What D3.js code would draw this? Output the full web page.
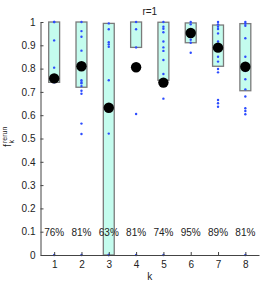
<!DOCTYPE html>
<html>
<head>
<meta charset="utf-8">
<script src="https://cdn.jsdelivr.net/npm/d3@7"></script>
<style>
  body { margin: 0; background: #fff; }
  text { font-family: "Liberation Sans", Arial, sans-serif; fill: #222; }
</style>
</head>
<body>
<svg id="chart"></svg>
<script>
const width = 277;
const height = 284;

const ks = [1, 2, 3, 4, 5, 6, 7, 8];
const boxLow = [0.741, 0.72, 0, 0.891, 0.75, 0.911, 0.81, 0.705];
const boxHigh = [1, 1, 0.994, 1, 0.999, 0.996, 0.987, 0.993];
const means = [0.758, 0.81, 0.632, 0.806, 0.74, 0.953, 0.89, 0.808];
const points = [
  [1, 1, 0.921, 0.804, 0.741, 0],
  [1, 0.961, 0.937, 0.877, 0.75, 0.742, 0.737, 0.725, 0.705, 0.692, 0.564, 0.519, 0],
  [0.994, 0.969, 0.913, 0.904, 0.894, 0.75, 0.521, 0, 0],
  [1, 0.969, 0.891, 0.605, 0],
  [1, 0.98, 0.971, 0.956, 0.916, 0.891, 0.876, 0.837, 0.777, 0.671, 0],
  [1, 0.99, 0.944, 0.924, 0.911, 0.868],
  [1, 0.99, 0.98, 0.97, 0.951, 0.916, 0.88, 0.851, 0.83, 0.798, 0.784, 0.665, 0.651, 0.636],
  [1, 0.993, 0.984, 0.93, 0.851, 0.79, 0.754, 0.711, 0.68, 0.63, 0.618, 0.604, 0]
];
const yTicks = [0, 0.1, 0.2, 0.3, 0.4, 0.5, 0.6, 0.7, 0.8, 0.9, 1];

const svg = d3.select("#chart")
  .attr("width", width)
  .attr("height", height);

const x = d3.scaleLinear().domain([0.5, 8.5]).range([40.5, 259]);
const y = d3.scaleLinear().domain([0, 1]).range([255, 22]);

// boxes
svg.append("g")
  .selectAll("rect")
  .data(ks)
  .enter()
  .append("rect")
    .attr("x", d => x(d - 0.2))
    .attr("width", x(1.2) - x(0.8))
    .attr("y", (d, i) => y(boxHigh[i]))
    .attr("height", (d, i) => y(boxLow[i]) - y(boxHigh[i]))
    .attr("fill", "#c4fcee")
    .attr("stroke", "#7a7a7a")
    .attr("stroke-width", 1.3);

// small blue points
const flat = [];
points.forEach((arr, i) => arr.forEach(v => flat.push({ k: ks[i], v: v })));
svg.append("g")
  .selectAll("circle")
  .data(flat)
  .enter()
  .append("circle")
    .attr("cx", d => x(d.k))
    .attr("cy", d => y(d.v))
    .attr("r", 1.2)
    .attr("fill", "#2c4cff");

// means
svg.append("g")
  .selectAll("circle")
  .data(ks)
  .enter()
  .append("circle")
    .attr("cx", d => x(d))
    .attr("cy", (d, i) => y(means[i]))
    .attr("r", 5.2)
    .attr("fill", "#000");

// percent labels
svg.append("g")
  .selectAll("text")
  .data(ks)
  .enter()
  .append("text")
    .attr("x", d => x(d))
    .attr("y", y(0.1) + 4)
    .style("text-anchor", "middle")
    .style("font-size", "10px")
    .text((d, i) => Math.round(means[i] * 100) + "%");

// axes
const xAxis = d3.axisBottom(x)
  .tickValues(ks)
  .tickSize(-3)
  .tickSizeOuter(0)
  .tickPadding(6);

const yAxis = d3.axisLeft(y)
  .tickValues(yTicks)
  .tickSize(-3)
  .tickSizeOuter(0)
  .tickPadding(5)
  .tickFormat(d3.format("~g"));

const gx = svg.append("g")
  .attr("transform", `translate(0, ${y(0)})`)
  .call(xAxis);

const gy = svg.append("g")
  .attr("transform", `translate(${x(0.5)}, 0)`)
  .call(yAxis);

[gx, gy].forEach(g => {
  g.select(".domain").attr("stroke", "#444");
  g.selectAll(".tick line").attr("stroke", "#444");
  g.selectAll(".tick text")
    .style("font-size", "10px")
    .style("font-family", "'Liberation Sans', Arial, sans-serif")
    .attr("fill", "#222");
});

// x axis label
svg.append("text")
  .attr("x", (x.range()[0] + x.range()[1]) / 2)
  .attr("y", 280)
  .style("text-anchor", "middle")
  .style("font-size", "10px")
  .text("k");

// y axis label
const yl = svg.append("g")
  .attr("transform", "translate(11, 147) rotate(-90)");
yl.append("text").attr("x", 0).attr("y", 0).style("font-size", "10px").text("f");
yl.append("text").attr("x", 4).attr("y", -4).style("font-size", "7px").text("rerun");
yl.append("text").attr("x", 3.5).attr("y", 3).style("font-size", "7px").text("k");

// title
svg.append("text")
  .attr("x", (x.range()[0] + x.range()[1]) / 2)
  .attr("y", 15)
  .style("text-anchor", "middle")
  .style("font-size", "10px")
  .text("r=1");
</script>
</body>
</html>
